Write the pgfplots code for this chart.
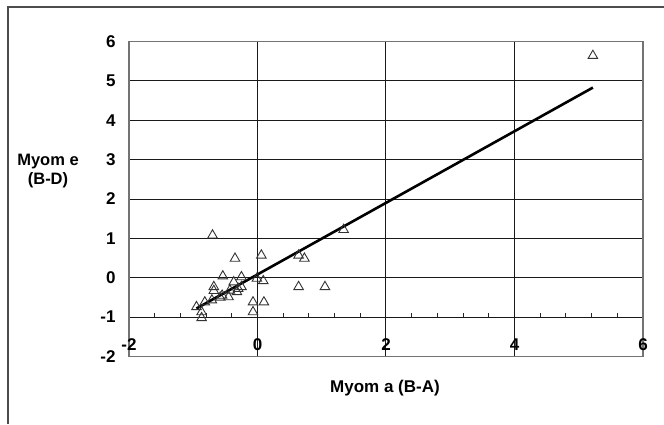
\documentclass[border=0pt]{standalone}
\usepackage{pgfplots}
\pgfplotsset{compat=1.18}
\usepackage{fontspec}
\setmainfont{Liberation Sans}
\begin{document}
\begin{tikzpicture}
\useasboundingbox (0pt,0pt) rectangle (664pt,424pt);
\fill[white] (0pt,0pt) rectangle (664pt,424pt);
\draw[black!70, line width=1.2pt] (8pt,0pt) -- (8pt,417pt) -- (664pt,417pt);
\begin{axis}[
  at={(129pt,67.5pt)}, anchor=south west, scale only axis,
  width=514pt, height=315pt,
  xmin=-2, xmax=6, ymin=-2, ymax=6,
  xtick={-2,0,2,4,6}, ytick={-2,-1,0,1,2,3,4,5,6},
  grid=major, major grid style={black!90, line width=1pt},
  axis line style={black!55, line width=1.1pt},
  major tick length=0pt,
  tick label style={font=\fontsize{17}{17}\selectfont\bfseries},
  /pgf/number format/assume math mode=true,
  xticklabel style={anchor=center, yshift=11.5pt},
  yticklabel style={anchor=east, xshift=-10pt},
  clip=false,
]
\pgfplotsinvokeforeach{-1.6,-1.2,-0.8,-0.4,0.4,0.8,1.2,1.6,2.4,2.8,3.2,3.6,4.4,4.8,5.2,5.6}{
  \draw[black!85, line width=0.9pt] (axis cs:#1,-1) -- ([yshift=4pt]axis cs:#1,-1);
}
\addplot[only marks, mark=triangle, mark size=5.5pt, mark options={black!80, line width=0.9pt}] table {
x y
-0.95 -0.74
-0.87 -0.87
-0.87 -1.02
-0.82 -0.62
-0.71 -0.57
-0.68 -0.23
-0.68 -0.33
-0.58 -0.50
-0.55 -0.45
-0.54 0.04
-0.45 -0.49
-0.43 -0.32
-0.37 -0.11
-0.35 0.49
-0.32 -0.36
-0.30 -0.28
-0.25 0.02
-0.25 -0.23
-0.70 1.08
-0.07 -0.62
-0.07 -0.87
0.10 -0.62
-0.01 -0.02
0.09 -0.08
0.06 0.57
0.64 0.57
0.73 0.49
0.64 -0.23
1.05 -0.23
1.34 1.22
5.22 5.64
};
\addplot[black, line width=2.6pt] coordinates {(-0.95,-0.78) (5.22,4.83)};
\end{axis}
\node[font=\fontsize{16.5}{19}\selectfont\bfseries, align=center] at (48pt,253pt) {Myom e\\(B-D)};
\node[font=\fontsize{17}{19}\selectfont\bfseries] at (385pt,36pt) {Myom a (B-A)};
\end{tikzpicture}
\end{document}
